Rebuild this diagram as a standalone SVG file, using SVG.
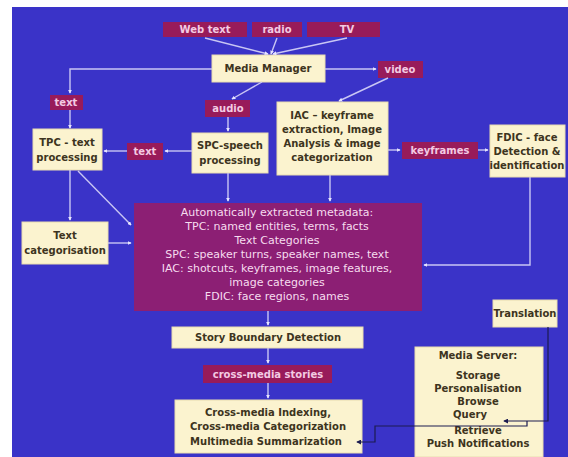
<svg xmlns="http://www.w3.org/2000/svg" width="568" height="457" viewBox="0 0 568 457">
<style>
.cream{fill:#fbf3cf;stroke:#e8dcb0;stroke-width:1}
.lab{fill:#981b5a}
.meta{fill:#8c1f74}
.t{font-family:"DejaVu Sans",Verdana,sans-serif;font-size:10px;font-weight:bold;fill:#3d3420;text-anchor:middle}
.w{font-family:"DejaVu Sans",Verdana,sans-serif;font-size:10px;font-weight:bold;fill:#f3cbe3;text-anchor:middle}
.m{font-family:"DejaVu Sans",Verdana,sans-serif;font-size:11px;fill:#f6dcef;text-anchor:middle}
.c{fill:none;stroke:#c9c6f4;stroke-width:1.4}
.d{fill:none;stroke:#1c1c50;stroke-width:1.2}
</style>
<defs>
<marker id="a" viewBox="0 0 6 6" refX="5" refY="3" markerWidth="4" markerHeight="4" orient="auto" markerUnits="userSpaceOnUse">
<path d="M0,0L6,3L0,6z" fill="#e6e4ff"/>
</marker>
<marker id="b" viewBox="0 0 6 6" refX="5" refY="3" markerWidth="5" markerHeight="5" orient="auto" markerUnits="userSpaceOnUse">
<path d="M0,0L6,3L0,6z" fill="#1c1c50"/>
</marker>
</defs>
<rect x="0" y="0" width="568" height="457" fill="#ffffff"/>
<rect x="12" y="7" width="556" height="450" fill="#3a33c8"/>

<g id="web-text"><rect class="lab" x="163" y="22" width="84" height="15"/><text class="w" x="205" y="33">Web text</text></g>
<g id="radio"><rect class="lab" x="252" y="22" width="50" height="15"/><text class="w" x="277" y="33">radio</text></g>
<g id="tv"><rect class="lab" x="307" y="22" width="73" height="15"/><text class="w" x="347" y="33">TV</text></g>

<g id="media-manager"><rect class="cream" x="212" y="55" width="113" height="27"/><text class="t" x="268" y="72">Media Manager</text></g>
<g id="video"><rect class="lab" x="378" y="61" width="45" height="17"/><text class="w" x="400" y="73">video</text></g>
<g id="text1"><rect class="lab" x="50" y="95" width="33" height="15"/><text class="w" x="66" y="106">text</text></g>
<g id="audio"><rect class="lab" x="205" y="100" width="45" height="17"/><text class="w" x="228" y="112">audio</text></g>

<g id="tpc"><rect class="cream" x="33" y="129" width="69" height="41"/><text class="t" x="67" y="146">TPC - text</text><text class="t" x="67" y="161">processing</text></g>
<g id="text2"><rect class="lab" x="127" y="143" width="36" height="17"/><text class="w" x="145" y="155">text</text></g>
<g id="spc"><rect class="cream" x="192" y="133" width="76" height="40"/><text class="t" x="230" y="149">SPC-speech</text><text class="t" x="230" y="164">processing</text></g>
<g id="iac"><rect class="cream" x="277" y="102" width="111" height="73"/><text class="t" x="332" y="119">IAC – keyframe</text><text class="t" x="332" y="133">extraction, Image</text><text class="t" x="332" y="147">Analysis &amp; image</text><text class="t" x="332" y="161">categorization</text></g>
<g id="keyframes"><rect class="lab" x="402" y="142" width="76" height="17"/><text class="w" x="440" y="154">keyframes</text></g>
<g id="fdic"><rect class="cream" x="490" y="125" width="75" height="52"/><text class="t" x="527" y="141">FDIC - face</text><text class="t" x="527" y="155">Detection &amp;</text><text class="t" x="527" y="169">identification</text></g>

<g id="text-categorisation"><rect class="cream" x="22" y="222" width="86" height="42"/><text class="t" x="65" y="239">Text</text><text class="t" x="65" y="254">categorisation</text></g>

<g id="metadata"><rect class="meta" x="134" y="203" width="288" height="108"/>
<text class="m" x="277" y="216">Automatically extracted metadata:</text>
<text class="m" x="277" y="230">TPC: named entities, terms, facts</text>
<text class="m" x="277" y="244">Text Categories</text>
<text class="m" x="277" y="258">SPC: speaker turns, speaker names, text</text>
<text class="m" x="277" y="272">IAC: shotcuts, keyframes, image features,</text>
<text class="m" x="277" y="286">image categories</text>
<text class="m" x="277" y="300">FDIC: face regions, names</text>
</g>

<g id="story-boundary"><rect class="cream" x="172" y="327" width="191" height="21"/><text class="t" x="268" y="341">Story Boundary Detection</text></g>
<g id="cross-media-stories"><rect class="lab" x="203" y="365" width="129" height="18"/><text class="w" x="268" y="378">cross-media stories</text></g>
<g id="indexing"><rect class="cream" x="175" y="400" width="187" height="53"/><text class="t" x="268" y="416">Cross-media Indexing,</text><text class="t" x="268" y="430">Cross-media Categorization</text><text class="t" x="266" y="445">Multimedia Summarization</text></g>

<g id="translation"><rect class="cream" x="493" y="300" width="64" height="27"/><text class="t" x="525" y="317">Translation</text></g>
<g id="media-server"><rect class="cream" x="415" y="347" width="128" height="110"/>
<text class="t" x="478" y="359">Media Server:</text>
<text class="t" x="478" y="379">Storage</text>
<text class="t" x="478" y="392">Personalisation</text>
<text class="t" x="478" y="405">Browse</text>
<text class="t" x="470" y="418">Query</text>
<text class="t" x="478" y="434">Retrieve</text>
<text class="t" x="478" y="447">Push Notifications</text>
</g>

<g id="connectors">
<path class="c" d="M205,38L268,54" marker-end="url(#a)"/>
<path class="c" d="M277,38L271,54" marker-end="url(#a)"/>
<path class="c" d="M347,38L273,54" marker-end="url(#a)"/>
<path class="c" d="M212,69H70V93" marker-end="url(#a)"/>
<path class="c" d="M70,110V128" marker-end="url(#a)"/>
<path class="c" d="M325,69H376" marker-end="url(#a)"/>
<path class="c" d="M262,82L232,99" marker-end="url(#a)"/>
<path class="c" d="M388,78L339,101" marker-end="url(#a)"/>
<path class="c" d="M228,117V131" marker-end="url(#a)"/>
<path class="c" d="M192,151H165" marker-end="url(#a)"/>
<path class="c" d="M127,151H104" marker-end="url(#a)"/>
<path class="c" d="M388,150H400" marker-end="url(#a)"/>
<path class="c" d="M478,150H488" marker-end="url(#a)"/>
<path class="c" d="M70,170V220" marker-end="url(#a)"/>
<path class="c" d="M78,171L131,225" marker-end="url(#a)"/>
<path class="c" d="M108,243H131" marker-end="url(#a)"/>
<path class="c" d="M228,173V201" marker-end="url(#a)"/>
<path class="c" d="M330,175V201" marker-end="url(#a)"/>
<path class="c" d="M530,177V265H424" marker-end="url(#a)"/>
<path class="c" d="M268,311V325" marker-end="url(#a)"/>
<path class="c" d="M268,348V363" marker-end="url(#a)"/>
<path class="c" d="M268,383V398" marker-end="url(#a)"/>
<path class="d" d="M548,327V421H504" marker-end="url(#b)"/>
<path class="d" d="M527,421V426H375V442H357" marker-end="url(#b)"/>
</g>
</svg>
